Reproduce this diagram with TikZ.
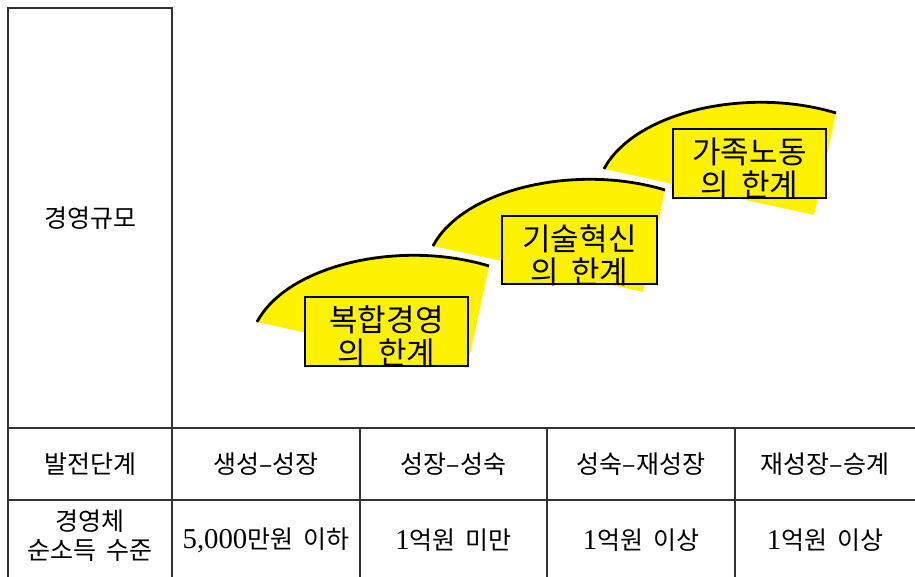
\documentclass[tikz,border=0pt]{standalone}
\usepackage{fontspec}
\setmainfont{Noto Sans CJK KR}
\newfontfamily\lat[Scale=1.15]{Liberation Serif}
\begin{document}
\begin{tikzpicture}[x=1pt,y=-1pt,
  tl/.style={draw=black!80,line width=1.3pt},
  arcline/.style={draw=black,line width=2.8pt},
  wedge/.style={fill=yellow},
  lbox/.style={draw=black,line width=2.4pt,fill=yellow,inner sep=0pt},
  ltext/.style={font=\fontsize{31}{33}\selectfont,align=center,inner sep=0pt},
  ctext/.style={font=\fontsize{25}{29}\selectfont,align=center,inner sep=0pt}]
\useasboundingbox (0,0) rectangle (915,577);
% table lines
\draw[tl] (8,577) -- (8,8) -- (172,8) -- (172,577);
\draw[tl] (8,428) -- (915,428);
\draw[tl] (8,500) -- (915,500);
\draw[tl] (360,428) -- (360,577);
\draw[tl] (547,428) -- (547,577);
\draw[tl] (735,428) -- (735,577);
% wedges
\foreach \ox/\oy in {257/322, 433/246, 604/169}{
  \begin{scope}[shift={(\ox,\oy)}]
    \fill[wedge] (0,0) .. controls (30,-57) and (143,-83) .. (232,-56) -- (210,46) -- cycle;
    \draw[arcline] (0,0) .. controls (30,-57) and (143,-83) .. (232,-56);
  \end{scope}
}
% boxes
\node[lbox,minimum width=163pt,minimum height=69pt] (b1) at (386.5,331.5) {};
\node[lbox,minimum width=155pt,minimum height=68pt] (b2) at (579.5,250) {};
\node[lbox,minimum width=153pt,minimum height=69pt] (b3) at (749.5,163.5) {};
\node[ltext] (t1) at ([yshift=-5pt]b1.center) {복합경영\\의\hspace{0.4em}한계};
\node[ltext] (t2) at ([yshift=-5pt]b2.center) {기술혁신\\의\hspace{0.4em}한계};
\node[ltext] (t3) at ([yshift=-5pt]b3.center) {가족노동\\의\hspace{0.4em}한계};
% table texts
\node[ctext] (scale) at (90,218) {경영규모};
\node[ctext] (stage) at (90,464) {발전단계};
\node[ctext] (s1) at (266,464) {생성–성장};
\node[ctext] (s2) at (453.5,464) {성장–성숙};
\node[ctext] (s3) at (641,464) {성숙–재성장};
\node[ctext] (s4) at (825,464) {재성장–승계};
\node[ctext] (inc) at (90,536) {경영체\\순소득\hspace{0.4em}수준};
\node[ctext] (i1) at (266,540) {{\lat 5,000}만원\hspace{0.4em}이하};
\node[ctext] (i2) at (453.5,540) {{\lat 1}억원\hspace{0.4em}미만};
\node[ctext] (i3) at (641,540) {{\lat 1}억원\hspace{0.4em}이상};
\node[ctext] (i4) at (825,540) {{\lat 1}억원\hspace{0.4em}이상};
\end{tikzpicture}
\end{document}
